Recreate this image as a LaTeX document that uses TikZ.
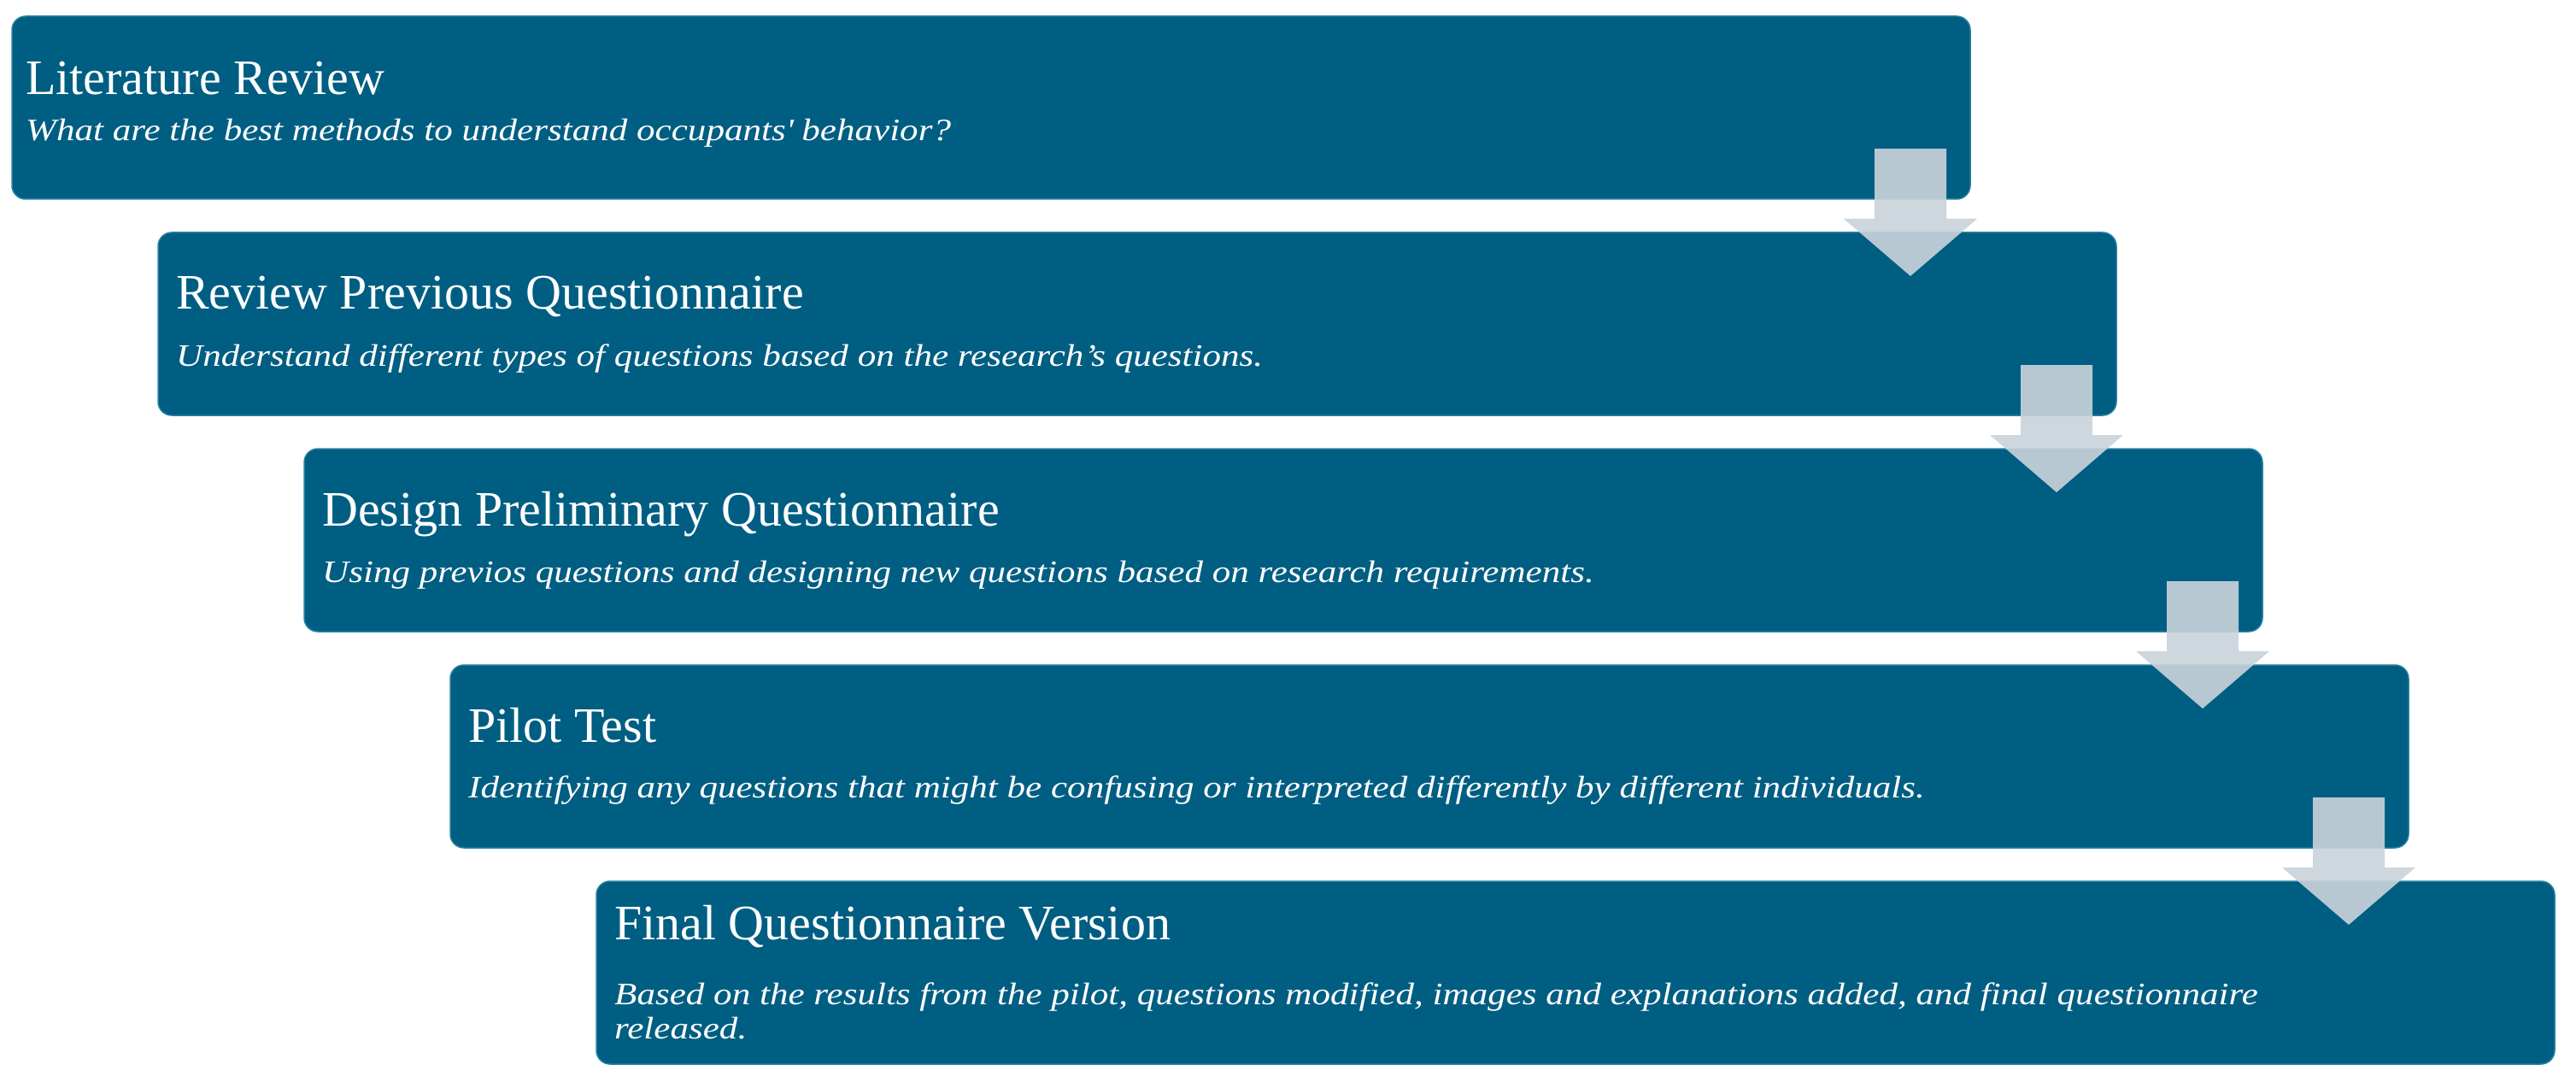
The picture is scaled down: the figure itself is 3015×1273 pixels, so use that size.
\documentclass[tikz,border=0pt]{standalone}
\usepackage{fontspec}
\setmainfont{Liberation Serif}
\newfontfamily\subfont[FakeStretch=1.18]{Liberation Serif}
\usetikzlibrary{calc}
\definecolor{boxblue}{RGB}{0,94,130}
\definecolor{boxedge}{RGB}{40,128,160}
\definecolor{arrowgrey}{RGB}{202,211,219}
\begin{document}
\begin{tikzpicture}[x=1pt,y=-1pt,
  stage/.style={draw=boxedge, line width=1.5pt, fill=boxblue, rounded corners=16pt,
    minimum width=2292pt, minimum height=214pt, anchor=north west, inner sep=0pt, outer sep=0pt},
  ttl/.style={anchor=base west, inner sep=0pt, text=white, font=\fontsize{58}{68}\selectfont},
  sub/.style={anchor=base west, inner sep=0pt, text=white, align=left,
    font=\subfont\itshape\fontsize{36.5}{40}\selectfont},
  flow/.style={fill=arrowgrey, fill opacity=0.91, draw=none}]
\useasboundingbox[fill=white] (0,0) rectangle (3015,1273);

\node[stage] (b1) at (14,19) {};
\node[stage] (b2) at (185,272) {};
\node[stage] (b3) at (356,525) {};
\node[stage] (b4) at (527,778) {};
\node[stage] (b5) at (698,1031) {};

\foreach \b in {b1,b2,b3,b4}{
  \path[flow] ($(\b.north east)+(-112,155)$) -- ++(84,0) -- ++(0,82) -- ++(36,0)
    -- ($(\b.north east)+(-70,304)$) -- ($(\b.north east)+(-148,237)$) -- ++(36,0) -- cycle;
}

\node[ttl] (t1) at ($(b1.north west)+(16,92)$) {Literature Review};
\node[sub] (s1) at ($(b1.north west)+(16,146)$) {What are the best methods to understand occupants\textquotesingle{} behavior?};

\node[ttl] (t2) at ($(b2.north west)+(21,90)$) {Review Previous Questionnaire};
\node[sub] (s2) at ($(b2.north west)+(21,156)$) {Understand different types of questions based on the research’s questions.};

\node[ttl] (t3) at ($(b3.north west)+(21,90)$) {Design Preliminary Questionnaire};
\node[sub] (s3) at ($(b3.north west)+(21,156)$) {Using previos questions and designing new questions based on research requirements.};

\node[ttl] (t4) at ($(b4.north west)+(21,90)$) {Pilot Test};
\node[sub] (s4) at ($(b4.north west)+(21,155)$) {Identifying any questions that might be confusing or interpreted differently by different individuals.};

\node[ttl] (t5) at ($(b5.north west)+(21,68)$) {Final Questionnaire Version};
\node[sub] (s5) at ($(b5.north west)+(21,184)$) {Based on the results from the pilot, questions modified, images and explanations added, and final questionnaire\\released.};
\end{tikzpicture}
\end{document}
